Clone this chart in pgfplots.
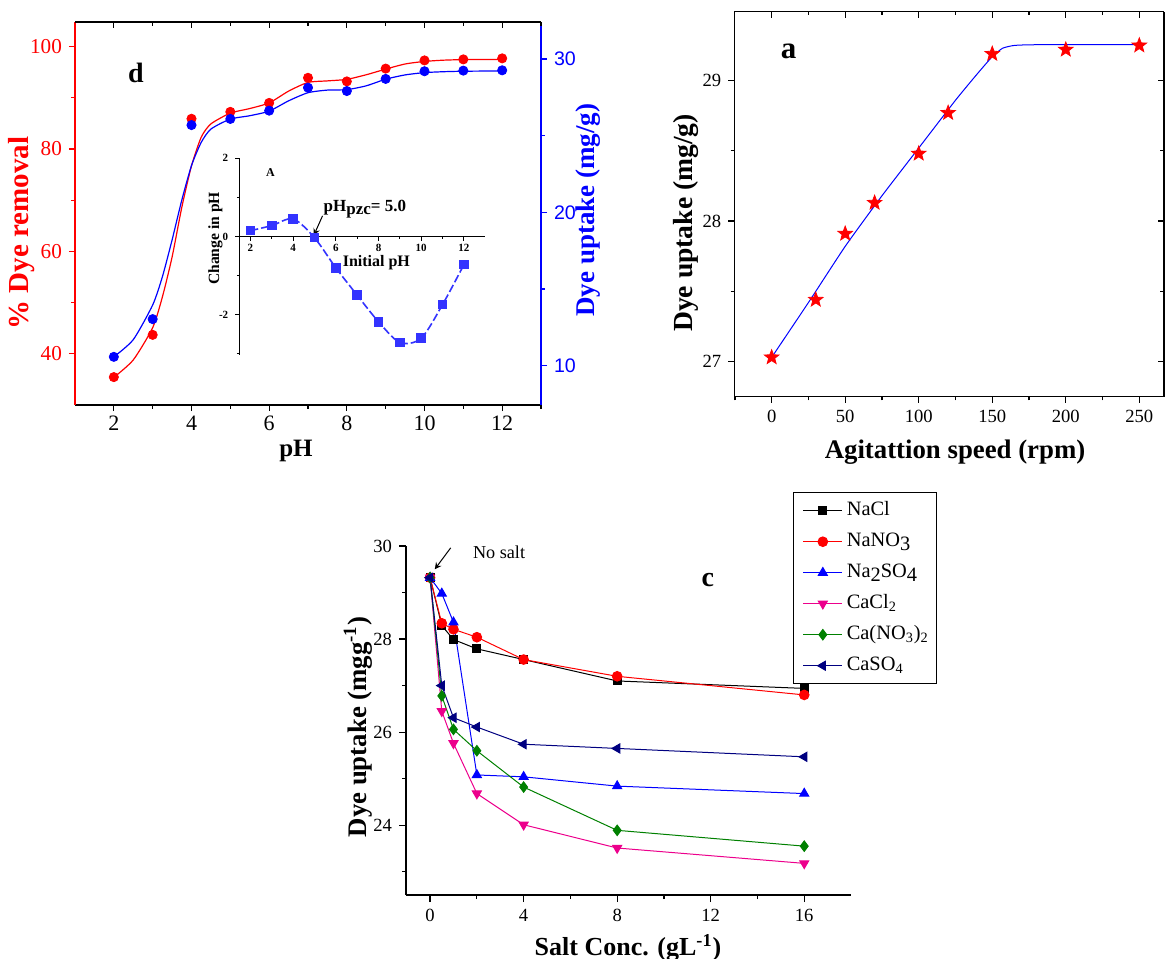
\documentclass[border=0pt]{standalone}
\usepackage{pgfplots}
\pgfplotsset{compat=1.18}
\usepackage{fontspec}
\setmainfont{Liberation Serif}
\newfontfamily\arialf{Liberation Sans}
\newcommand\fs[1]{\fontsize{#1pt}{#1pt}\selectfont}
\definecolor{insb}{RGB}{51,51,255}
\definecolor{dgreen}{RGB}{0,128,0}
\definecolor{navy}{RGB}{0,0,128}
\pgfdeclareplotmark{fstar}{%
  \pgfpathmoveto{\pgfpointpolar{90}{\pgfplotmarksize}}%
  \pgfpathlineto{\pgfpointpolar{126}{0.42\pgfplotmarksize}}%
  \pgfpathlineto{\pgfpointpolar{162}{\pgfplotmarksize}}%
  \pgfpathlineto{\pgfpointpolar{198}{0.42\pgfplotmarksize}}%
  \pgfpathlineto{\pgfpointpolar{234}{\pgfplotmarksize}}%
  \pgfpathlineto{\pgfpointpolar{270}{0.42\pgfplotmarksize}}%
  \pgfpathlineto{\pgfpointpolar{306}{\pgfplotmarksize}}%
  \pgfpathlineto{\pgfpointpolar{342}{0.42\pgfplotmarksize}}%
  \pgfpathlineto{\pgfpointpolar{18}{\pgfplotmarksize}}%
  \pgfpathlineto{\pgfpointpolar{54}{0.42\pgfplotmarksize}}%
  \pgfpathclose
  \pgfusepathqfillstroke
}
\pgfplotsset{
  myax/.style={scale only axis, anchor=south west, clip=false,
    /pgf/number format/assume math mode=true,
    axis line style={line width=0.6pt},
    tick style={line width=0.6pt, black},
    major tick length=3pt, minor tick length=1.8pt},
}
% ---- data ----
\pgfplotstableread{
x y
2 35.45
3 43.7
4 85.9
5 87.25
6 89.0
7 93.9
8 93.2
9 95.7
10 97.3
11 97.5
12 97.7
}\redpts
\pgfplotstableread{
x y
2 35.4
2.5 38.8
3 45.1
3.25 51.1
3.5 58.9
3.75 68.6
4 76.7
4.25 82.3
4.5 84.9
5 87.0
5.5 87.9
6 89.0
6.5 91.3
7 93.0
7.5 93.3
8 93.6
8.5 94.5
9 95.6
9.5 96.6
10 97.1
10.5 97.35
11 97.45
12 97.5
}\redfit
\pgfplotstableread{
x y
2 10.58
3 13.04
4 25.69
5 26.09
6 26.63
7 28.13
8 27.91
9 28.70
10 29.20
11 29.24
12 29.26
}\bluepts
\pgfplotstableread{
x y
2 10.58
2.5 11.7
3 13.96
3.25 15.8
3.5 18.2
3.75 20.8
4 23.05
4.25 24.56
4.5 25.43
5 26.08
5.5 26.3
6 26.6
6.5 27.27
7 27.8
7.5 27.97
8 28.0
8.5 28.25
9 28.68
9.5 28.96
10 29.11
10.5 29.17
11 29.2
12 29.22
}\bluefit
\pgfplotstableread{
x y
2 0.15
3 0.28
4 0.45
5 -0.03
6 -0.8
7 -1.5
8 -2.18
9 -2.71
10 -2.6
11 -1.74
12 -0.72
}\inset
\pgfplotstableread{
x y
0 27.03
30 27.44
50 27.91
70 28.13
100 28.48
120 28.77
150 29.19
200 29.22
250 29.25
}\agpts
\pgfplotstableread{
x y
0 27.03
25 27.42
50 27.82
75 28.18
100 28.52
125 28.86
140 29.05
150 29.17
157 29.23
165 29.25
180 29.255
250 29.255
}\agfit
\pgfplotstableread{
x NaCl NaNO CaSOna CaCl CaNO CaSO
0 29.32 29.32 29.32 29.32 29.32 29.32
0.5 28.29 28.34 28.98 26.45 26.78 27.00
1 27.99 28.21 28.36 25.76 26.06 26.31
2 27.79 28.04 25.08 24.68 25.60 26.11
4 27.56 27.56 25.04 24.01 24.82 25.74
8 27.10 27.20 24.84 23.51 23.89 25.65
16 26.94 26.80 24.68 23.18 23.55 25.47
}\salt
\begin{document}
\begin{tikzpicture}
\useasboundingbox (0,0) rectangle (582.5pt,-479pt);
% ================= panel d =================
\begin{axis}[myax, at={(37.5pt,-202.5pt)}, width=233pt, height=191.5pt,
  xmin=1, xmax=13, ymin=30, ymax=104.8,
  axis x line*=bottom, axis y line*=left, tick align=outside,
  xtick={2,4,...,12}, minor xtick={3,5,...,13},
  ytick={40,60,80,100}, minor ytick={50,70,90},
  y axis line style={red}, ytick style={red},
  yticklabel style={text=red, font=\fs{10.6}},
  xticklabel style={font=\fs{11}, yshift=1pt}]
\addplot[red, line width=0.6pt, smooth, tension=0.4] table {\redfit};
\addplot[red, only marks, mark=*, mark size=2.3pt] table {\redpts};
\node[font=\bfseries\fs{14}] at (axis cs:2.57,94.8) {d};
\end{axis}
\begin{axis}[myax, at={(37.5pt,-202.5pt)}, width=233pt, height=191.5pt,
  xmin=1, xmax=13, ymin=7.44, ymax=32.41,
  axis x line=none, axis y line*=right, tick align=outside,
  ytick={10,20,30}, minor ytick={15,25},
  y axis line style={blue}, ytick style={blue},
  yticklabel style={text=blue, font=\arialf\fs{9.8}}]
\addplot[blue, line width=0.6pt, smooth, tension=0.4] table {\bluefit};
\addplot[blue, only marks, mark=*, mark size=2.3pt] table {\bluepts};
\end{axis}
\begin{axis}[myax, at={(37.5pt,-202.5pt)}, width=233pt, height=191.5pt,
  xmin=1, xmax=13, ymin=0, ymax=1,
  axis x line*=top, axis y line=none, tick align=inside,
  xtick={2,4,...,12}, minor xtick={3,5,...,13}, xticklabels={}]
\end{axis}
% inset
\begin{axis}[myax, at={(119.65pt,-177.3pt)}, width=122.65pt, height=98.15pt,
  xmin=1.48, xmax=12.97, ymin=-3.02, ymax=2,
  axis x line=middle, axis y line=left, axis line style={-, line width=0.5pt},
  hide obscured y ticks=false,
  tick align=outside, major tick length=2pt, minor tick length=1.2pt,
  tick style={line width=0.5pt},
  xtick={2,4,...,12}, minor xtick={3,5,...,13},
  ytick={-2,0,2}, minor ytick={-3,-1,1},
  ticklabel style={font=\bfseries\fs{5.5}},
  xticklabel style={yshift=1.6pt}]
\addplot[insb, line width=0.8pt, dash pattern=on 4pt off 1.5pt, smooth,
  mark=square*, mark size=2pt, mark options={solid}] table {\inset};
\node[font=\bfseries\fs{6}] at (axis cs:2.94,1.63) {A};
\node[font=\bfseries\fs{8.5}, anchor=west] at (axis cs:5.1,0.71) {pH\raisebox{-0.4ex}{pzc}= 5.0};
\draw[-stealth, line width=0.5pt] (axis cs:5.38,0.53) -- (axis cs:4.97,0.03);
\node[font=\bfseries\fs{8}] at (axis cs:7.9,-0.68) {Initial pH};
\node[font=\bfseries\fs{7.8}, rotate=90] at (axis cs:0.36,-0.05) {Change in pH};
\end{axis}
\node[font=\bfseries\fs{14.5}, text=red, rotate=90] at (11pt,-116.5pt) {\% Dye removal};
\node[font=\bfseries\fs{13.5}, text=blue, rotate=90] at (294pt,-105pt) {Dye uptake (mg/g)};
\node[font=\bfseries\fs{12.5}, anchor=base] at (148pt,-228pt) {pH};
% ================= panel a =================
\begin{axis}[myax, at={(367.15pt,-198.35pt)}, width=214.85pt, height=192.5pt,
  xmin=-25.4, xmax=266.8, ymin=26.75, ymax=29.49,
  axis x line*=bottom, axis y line*=left, tick align=outside,
  xtick={0,50,...,250}, minor xtick={-25,25,75,...,225},
  ytick={27,28,29}, minor ytick={27.5,28.5},
  ticklabel style={font=\fs{9.3}}]
\addplot[blue, line width=0.5pt, smooth, tension=0.3] table {\agfit};
\addplot[red, only marks, mark=fstar, mark size=3.8pt] table {\agpts};
\node[font=\bfseries\fs{15.5}] at (axis cs:11.6,29.21) {a};
\end{axis}
\begin{axis}[myax, at={(367.15pt,-198.35pt)}, width=214.85pt, height=192.5pt,
  xmin=-25.4, xmax=266.8, ymin=26.75, ymax=29.49,
  axis x line*=top, axis y line*=right, tick align=inside,
  xtick={0,50,...,250}, minor xtick={25,75,...,225},
  ytick={27,28,29}, minor ytick={27.5,28.5},
  xticklabels={}, yticklabels={}]
\end{axis}
\node[font=\bfseries\fs{13.8}, rotate=90] at (343pt,-111.5pt) {Dye uptake (mg/g)};
\node[font=\bfseries\fs{13.4}, anchor=base] at (477.5pt,-229pt) {Agitattion speed (rpm)};
% ================= panel c =================
\begin{axis}[myax, at={(203pt,-447.5pt)}, width=222.5pt, height=174.5pt,
  xmin=-1.03, xmax=18, ymin=22.5, ymax=30,
  axis x line*=bottom, axis y line*=left, tick align=outside,
  major tick length=3.5pt, minor tick length=2pt,
  xtick={0,4,...,16}, minor xtick={2,6,10,14},
  ytick={24,26,28,30}, minor ytick={23,25,27,29},
  ticklabel style={font=\fs{9.3}},
  legend style={at={(0.8697,1.1547)}, anchor=north west, draw=black,
    line width=0.6pt, font=\fs{10.2}, inner sep=2pt, row sep=1.4pt,
    nodes={inner sep=2pt, text height=7.6pt, text depth=2.5pt}},
  legend cell align=left,
  legend image code/.code={\path (-2.6pt,0pt); \draw[mark repeat=2,mark phase=2] plot coordinates {(0pt,0pt) (9.75pt,0pt) (19.5pt,0pt)};}]
\addplot[black, line width=0.5pt, mark=square*, mark size=2pt] table[y=NaCl] {\salt};
\addlegendentry{NaCl}
\addplot[red, line width=0.5pt, mark=*, mark size=2.4pt] table[y=NaNO] {\salt};
\addlegendentry{NaNO\raisebox{-0.4ex}{3}}
\addplot[blue, line width=0.5pt, mark=triangle*, mark size=2.6pt] table[y=CaSOna] {\salt};
\addlegendentry{Na\raisebox{-0.4ex}{2}SO\raisebox{-0.4ex}{4}}
\addplot[magenta, line width=0.5pt, mark=triangle*, mark size=2.6pt, mark options={rotate=180}] table[y=CaCl] {\salt};
\addlegendentry{CaCl\textsubscript{2}}
\addplot[dgreen, line width=0.5pt, mark=diamond*, mark size=2.6pt] table[y=CaNO] {\salt};
\addlegendentry{Ca(NO\textsubscript{3})\textsubscript{2}}
\addplot[navy, line width=0.5pt, mark=triangle*, mark size=2.6pt, mark options={rotate=90}] table[y=CaSO] {\salt};
\addlegendentry{CaSO\textsubscript{4}}
\node[font=\fs{9.1}] at (axis cs:2.95,29.87) {No salt};
\draw[-stealth, line width=0.5pt] (axis cs:0.88,29.96) -- (axis cs:0.2,29.5);
\node[font=\bfseries\fs{14}] at (axis cs:11.88,29.27) {c};
\end{axis}
\node[font=\bfseries\fs{13.4}, rotate=90] at (179pt,-363.5pt) {Dye uptake (mgg\textsuperscript{-1})};
\node[font=\bfseries\fs{13}, anchor=base] at (314pt,-477.5pt) {Salt Conc. (gL\textsuperscript{-1})};
\end{tikzpicture}
\end{document}
